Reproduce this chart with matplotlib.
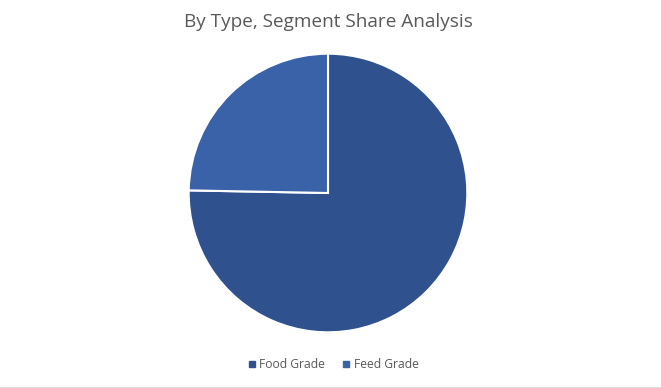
import matplotlib.pyplot as plt
from matplotlib.lines import Line2D

labels = ["Food Grade", "Feed Grade"]
shares = [75.3, 24.7]
colors = ["#2F528F", "#3A62A8"]

fig = plt.figure(figsize=(6.61, 3.88), dpi=100)
plt.rcParams['font.family'] = ['Open Sans', 'DejaVu Sans']

ax = fig.add_axes([(328 - 140) / 661, (388 - 333) / 388, 280 / 661, 280 / 388])
ax.pie(shares, colors=colors, startangle=90, counterclock=False,
       wedgeprops=dict(edgecolor='white', linewidth=1.5))
ax.set_xlim(-1.005, 1.005)
ax.set_ylim(-1.005, 1.005)
ax.set_aspect('equal')
ax.axis('off')

fig.text(328 / 661, 1 - 22 / 388, "By Type, Segment Share Analysis",
         ha='center', va='center', fontsize=13.7, color='#595959')

handles = [Line2D([], [], marker='s', linestyle='none', markersize=4.5,
                  markerfacecolor=c, markeredgecolor=c) for c in colors]
fig.legend(handles, labels, loc='center', bbox_to_anchor=(332 / 661, 1 - 365 / 388),
           ncol=2, frameon=False, fontsize=8.7, labelcolor='#595959',
           handletextpad=0.1, columnspacing=1.3, handlelength=1.0)

fig.add_artist(Line2D([0, 1], [0.5 / 388, 0.5 / 388], color='#D9D9D9', linewidth=1.2,
                      transform=fig.transFigure))

fig.savefig("out.png", dpi=100)
